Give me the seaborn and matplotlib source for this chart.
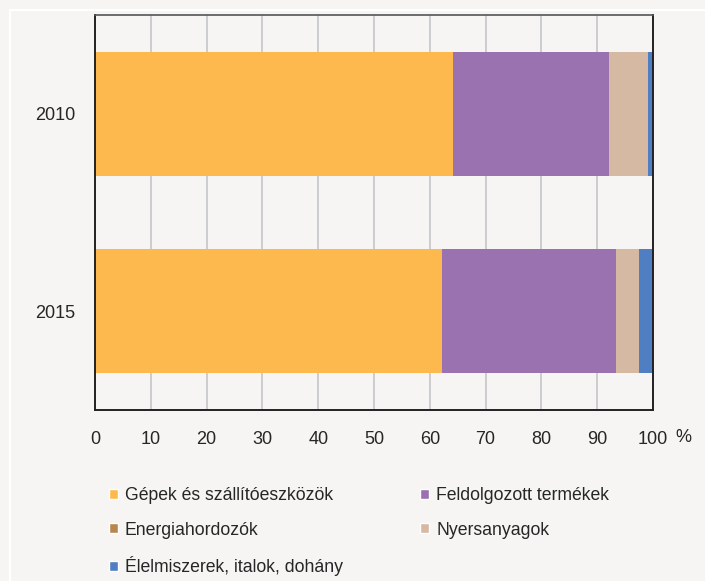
import pandas as pd
import numpy as np
import matplotlib
matplotlib.use('Agg')
import matplotlib.pyplot as plt
import seaborn as sns
from matplotlib.patches import Patch

# Data (shares in %)
years = ['2010', '2015']
categories = ['Gépek és szállítóeszközök', 'Feldolgozott termékek', 'Energiahordozók',
              'Nyersanyagok', 'Élelmiszerek, italok, dohány']
gepek = [64.2, 62.2]
feldolgozott = [27.9, 31.2]
energia = [0.1, 0.0]
nyersanyag = [6.9, 4.1]
elelmiszer = [0.9, 2.5]
colors = ['#FDB94D', '#9B72B0', '#B8874F', '#D5B9A3', '#4F7FC2']

series = [gepek, feldolgozott, energia, nyersanyag, elelmiszer]
df = pd.DataFrame({c: s for c, s in zip(categories, series)}, index=years)
cum = df.cumsum(axis=1)

sns.set_style('white')
plt.rcParams['font.family'] = ['Liberation Sans Narrow', 'Liberation Sans', 'DejaVu Sans']

bg = '#F6F5F3'
fig = plt.figure(figsize=(7.05, 5.81), dpi=100, facecolor=bg)
ax = fig.add_axes([95 / 705, 1 - 410 / 581, (653 - 95) / 705, (410 - 15) / 581])
ax.set_facecolor(bg)

# stacked bars: draw cumulative totals back to front
for cat, col in reversed(list(zip(categories, colors))):
    d = pd.DataFrame({'year': years, 'val': cum[cat].values})
    sns.barplot(data=d, x='val', y='year', color=col, width=0.63,
                orient='h', ax=ax, saturation=1, edgecolor='none', zorder=2)

ax.set_xlim(0, 100)
ax.set_ylim(1.5, -0.5)
ax.set_xticks(np.arange(0, 101, 10))
ax.set_xlabel('')
ax.set_ylabel('')
ax.grid(axis='x', color='#C4C6CA', linewidth=1.2, zorder=0)
ax.set_axisbelow(True)
ax.tick_params(axis='x', length=0, pad=15, labelsize=13)
ax.tick_params(axis='y', length=0, pad=14, labelsize=13)
for side in ['left', 'bottom', 'right']:
    ax.spines[side].set_color('#222222')
    ax.spines[side].set_linewidth(1.4)
ax.spines['top'].set_color('#555555')
ax.spines['top'].set_linewidth(1.2)

ax.text(1.054, -0.07, '%', transform=ax.transAxes, ha='center', va='center', fontsize=13)

# legend (column-first fill, so reorder to get row layout)
order = [0, 2, 4, 1, 3]
handles = [Patch(facecolor=colors[i], label=categories[i]) for i in order]
fig.legend(handles=handles, loc='upper left', bbox_to_anchor=(109 / 705, 1 - 487 / 581),
           ncol=2, frameon=False, fontsize=12.7, handlelength=0.5, handleheight=0.5,
           handletextpad=0.4, columnspacing=4.4, labelspacing=1.0, borderaxespad=0,
           borderpad=0)

# thin white frame lines seen at the figure edge
fig.add_artist(plt.Line2D([10 / 705, 1], [1 - 10 / 581, 1 - 10 / 581], color='white', lw=1.5))
fig.add_artist(plt.Line2D([10 / 705, 10 / 705], [0, 1 - 10 / 581], color='white', lw=1.5))

fig.savefig('out.png', dpi=100, facecolor=bg)
